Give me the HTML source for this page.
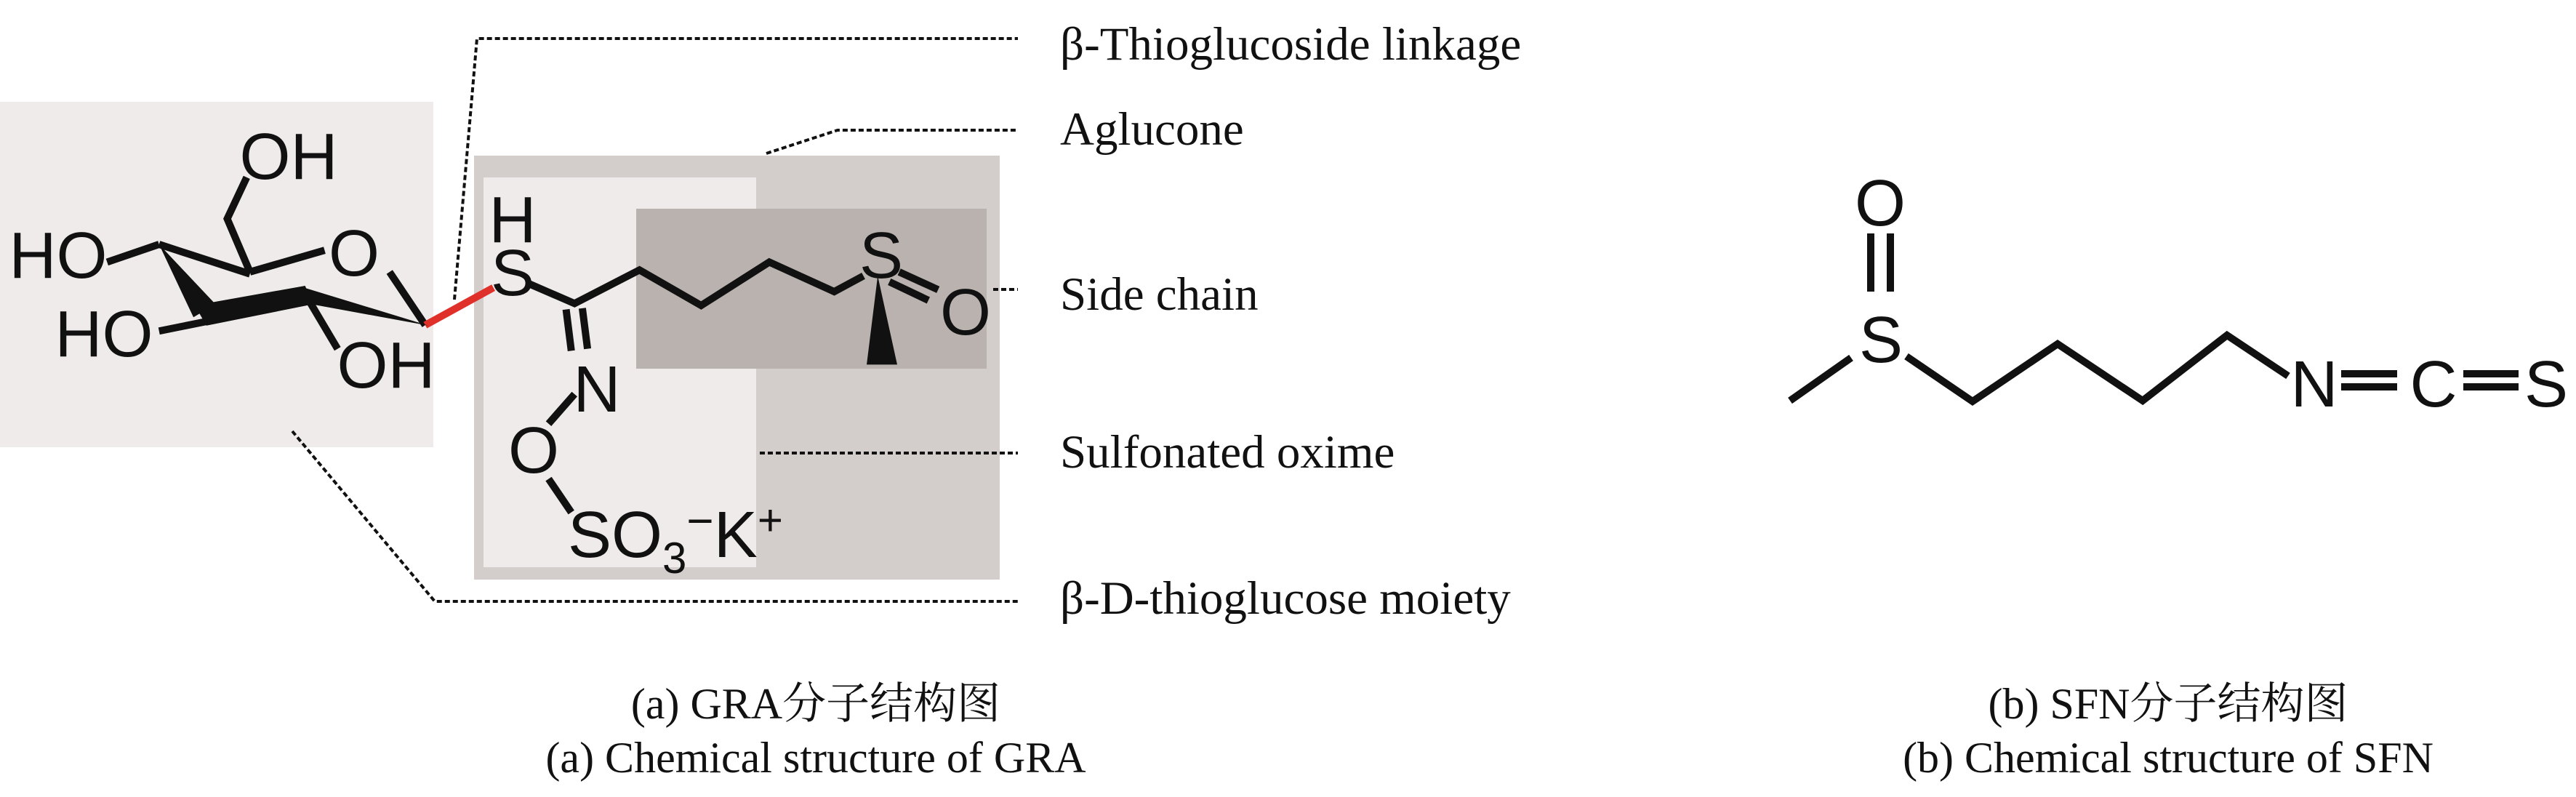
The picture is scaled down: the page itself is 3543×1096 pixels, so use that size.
<!DOCTYPE html>
<html><head><meta charset="utf-8"><style>
html,body{margin:0;padding:0;background:#fff;}
svg{display:block;}
.lab{font-family:"Liberation Serif",serif;font-size:65px;fill:#111;}
.cap{font-family:"Liberation Serif","Noto Serif CJK SC",serif;font-size:60px;fill:#111;}
.at{font-family:"Liberation Sans",sans-serif;font-size:90px;fill:#111;}
</style></head><body>
<svg width="3543" height="1096" viewBox="0 0 3543 1096" xmlns="http://www.w3.org/2000/svg">
<rect x="0" y="140" width="596" height="475" fill="#efebea"/>
<rect x="652" y="214" width="723" height="583" fill="#d3cdcc"/>
<rect x="665" y="244" width="375" height="536" fill="#efebea"/>
<rect x="875" y="287" width="482" height="220" fill="#b9b2af"/>
<g fill="none" stroke="#111" stroke-width="4" stroke-dasharray="7,4">
<path d="M625,412 L656,53 L1400,53"/>
<path d="M1054,211 L1152,179 L1400,179"/>
<path d="M1366,398 L1400,398"/>
<path d="M1045,623 L1400,623"/>
<path d="M402,593 L598,827 L1400,827"/>
</g>
<g transform="scale(0.8929,0.542)">
<g fill="none" stroke="#111" stroke-width="10" stroke-linecap="butt" stroke-linejoin="miter">
<path vector-effect="non-scaling-stroke" d="M380,450 L350,555 L385,690"/>
<path vector-effect="non-scaling-stroke" d="M385,690 L500,635"/>
<path vector-effect="non-scaling-stroke" d="M600,690 L655,825"/>
<path vector-effect="non-scaling-stroke" d="M165,665 L245,620"/>
<path vector-effect="non-scaling-stroke" d="M245,620 L385,695"/>
<path vector-effect="non-scaling-stroke" d="M245,840 L320,815"/>
<path vector-effect="non-scaling-stroke" d="M475,760 L520,885"/>
<path vector-effect="non-scaling-stroke" d="M815,720 L885,770 L985,685 L1080,775 L1185,665 L1285,740 L1330,700"/>
<path vector-effect="non-scaling-stroke" d="M1385,690 L1445,735 M1370,715 L1430,762"/>
<path vector-effect="non-scaling-stroke" d="M872,785 L880,890 M897,782 L905,885"/>
<path vector-effect="non-scaling-stroke" d="M885,1000 L845,1075"/>
<path vector-effect="non-scaling-stroke" d="M845,1215 L880,1300"/>
<path vector-effect="non-scaling-stroke" d="M655,825 L760,730" stroke="#e0302a"/>
</g>
<g fill="#111">
<polygon points="245,620 332,772 298,805"/>
<polygon points="300,775 470,725 482,772 318,826"/>
<polygon points="465,728 660,826 480,772"/>
<polygon points="1352,700 1335,925 1382,925"/>
</g>
</g>
<g class="at" text-anchor="middle">
<text x="397" y="246">OH</text>
<text x="80" y="382">HO</text>
<text x="487" y="379">O</text>
<text x="143" y="490">HO</text>
<text x="531" y="533">OH</text>
<text x="705" y="333">H</text>
<text x="705" y="406">S</text>
<text x="1212" y="382">S</text>
<text x="1328" y="460">O</text>
<text x="821" y="566">N</text>
<text x="734" y="650">O</text>
</g>
<text class="at" x="781" y="766">SO<tspan font-size="60" dy="22">3</tspan><tspan font-size="64" dy="-50">−</tspan><tspan dy="28">K</tspan><tspan font-size="60" dy="-30">+</tspan></text>
<g class="lab">
<text x="1458" y="82">β-Thioglucoside linkage</text>
<text x="1458" y="199">Aglucone</text>
<text x="1458" y="426">Side chain</text>
<text x="1458" y="643">Sulfonated oxime</text>
<text x="1458" y="844">β-D-thioglucose moiety</text>
</g>
<g fill="none" stroke="#111" stroke-width="10">
<path d="M2573,321 L2573,401 M2600,321 L2600,401"/>
<path d="M2462,551 L2546,492"/>
<path d="M2622,490 L2713,552 L2830,473 L2947,551 L3063,461 L3147,517"/>
<path d="M3220,514 L3297,514 M3220,532 L3297,532"/>
<path d="M3388,514 L3464,514 M3388,532 L3464,532"/>
</g>
<g class="at" text-anchor="middle">
<text x="2586" y="310">O</text>
<text x="2587" y="498">S</text>
<text x="3183" y="559">N</text>
<text x="3347" y="559">C</text>
<text x="3502" y="559">S</text>
</g>
<g class="cap" text-anchor="middle">
<text x="1122" y="988">(a) GRA分子结构图</text>
<text x="1122" y="1062">(a) Chemical structure of GRA</text>
<text x="2982" y="988">(b) SFN分子结构图</text>
<text x="2982" y="1062">(b) Chemical structure of SFN</text>
</g>
</svg>
</body></html>
